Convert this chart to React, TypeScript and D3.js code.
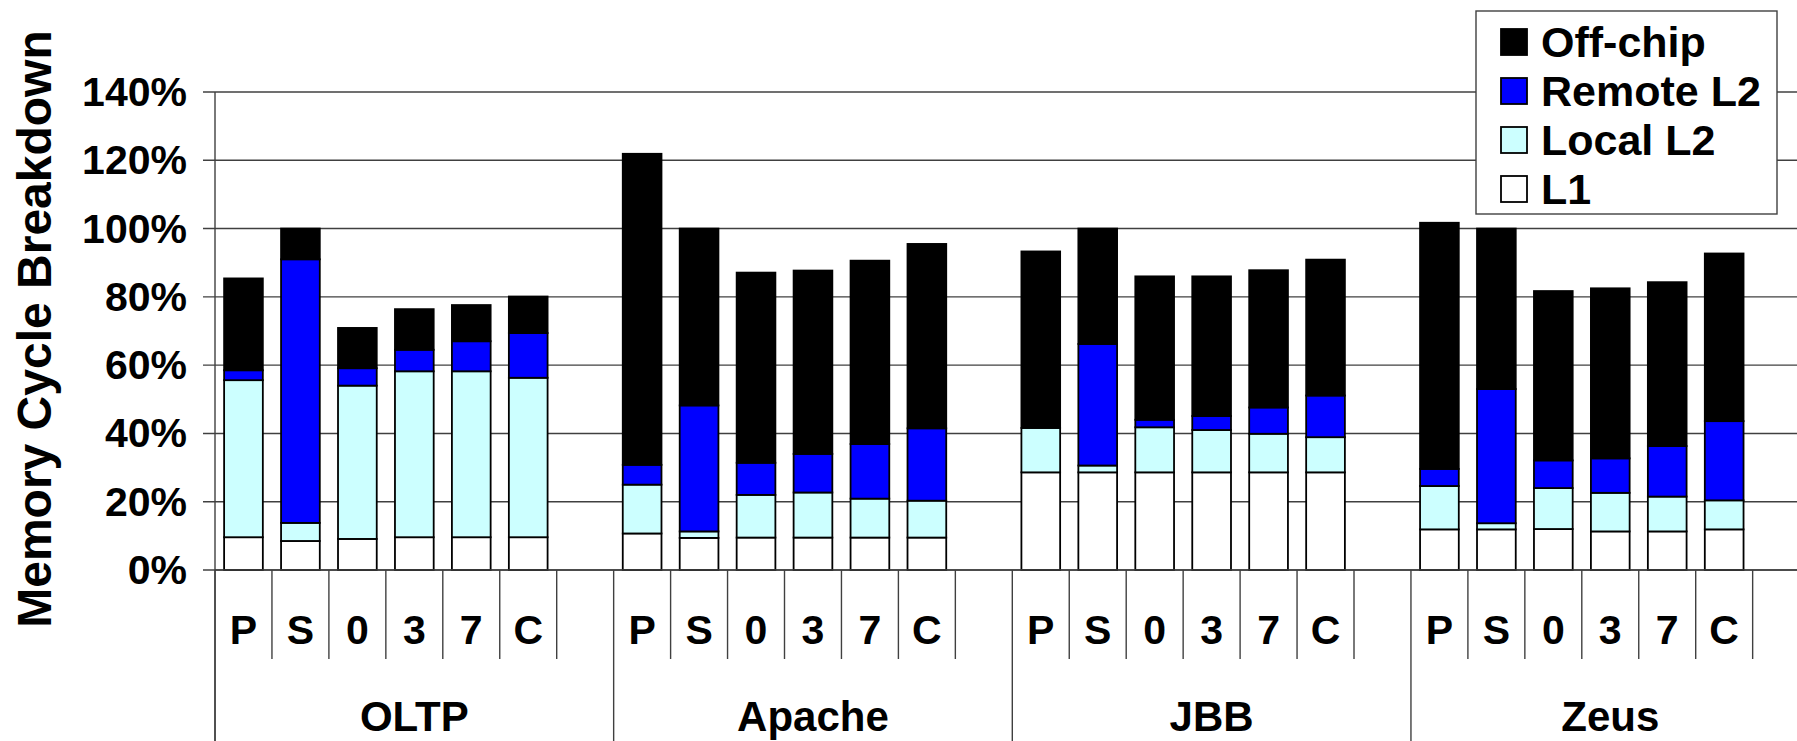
import React from "react";
import * as d3 from "d3";

const groups = ["OLTP", "Apache", "JBB", "Zeus"];
const configs = ["P", "S", "0", "3", "7", "C"];
const seriesNames = ["L1", "Local L2", "Remote L2", "Off-chip"];
const seriesColors = ["#FFFFFF", "#CCFFFF", "#0000FF", "#000000"];
const legendOrder = ["Off-chip", "Remote L2", "Local L2", "L1"];
const yTicks = [0, 20, 40, 60, 80, 100, 120, 140];

// segment values (%) per bar: [L1, Local L2, Remote L2, Off-chip]
const oltpValues = [
  [9.6, 46.0, 2.9, 26.9],
  [8.5, 5.3, 77.2, 9.0],
  [9.1, 44.9, 5.1, 11.8],
  [9.6, 48.6, 6.3, 11.9],
  [9.6, 48.6, 8.8, 10.6],
  [9.6, 46.7, 13.1, 10.7],
];
const apacheValues = [
  [10.7, 14.3, 5.8, 91.1],
  [9.4, 1.9, 36.9, 51.8],
  [9.5, 12.5, 9.4, 55.7],
  [9.5, 13.2, 11.3, 53.7],
  [9.5, 11.4, 16.0, 53.7],
  [9.5, 10.8, 21.2, 54.0],
];
const jbbValues = [
  [28.6, 13.0, 0.0, 51.7],
  [28.6, 2.0, 35.6, 33.8],
  [28.6, 13.2, 2.2, 42.0],
  [28.6, 12.4, 4.1, 40.9],
  [28.6, 11.3, 7.7, 40.2],
  [28.6, 10.3, 12.2, 39.8],
];
const zeusValues = [
  [11.9, 12.7, 5.0, 72.1],
  [11.9, 1.8, 39.3, 47.0],
  [12.0, 12.0, 8.1, 49.6],
  [11.3, 11.3, 10.1, 49.8],
  [11.3, 10.2, 14.8, 48.0],
  [11.9, 8.5, 23.2, 49.1],
];
const groupValues = [oltpValues, apacheValues, jbbValues, zeusValues];

const W = 1797;
const H = 741;
const FONT = "'Liberation Sans', Arial, sans-serif";

export default function App() {
  const plotLeft = 215;
  const slotW = 56.95;
  const slotsPerGroup = configs.length + 1;
  const slotKeys: string[] = [];
  groups.forEach((g) => {
    configs.forEach((c) => slotKeys.push(g + "|" + c));
    slotKeys.push(g + "|_");
  });
  const x = d3
    .scaleBand<string>()
    .domain(slotKeys)
    .range([plotLeft, plotLeft + slotKeys.length * slotW])
    .paddingInner(0.32)
    .paddingOuter(0.16);
  const y = d3.scaleLinear().domain([0, 140]).range([570, 92]);

  const bars: any[] = [];
  groups.forEach((g, gi) => {
    configs.forEach((c, ci) => {
      const vals = groupValues[gi][ci];
      let acc = 0;
      vals.forEach((v, si) => {
        const y0 = acc;
        acc += v;
        bars.push({ key: `${g}-${c}-${si}`, x: x(g + "|" + c)!, y0, y1: acc, si });
      });
    });
  });

  const baseY = y(0);
  const slotLines: number[] = [];
  const groupLines: number[] = [];
  for (let i = 0; i <= slotKeys.length; i++) {
    const xx = plotLeft + i * x.step();
    if (i % slotsPerGroup === 0) groupLines.push(xx);
    else slotLines.push(xx);
  }

  return (
    <svg
      width={W}
      height={H}
      style={{ position: "absolute", left: 0, top: 0, background: "#fff" }}
      fontFamily={FONT}
    >
      {/* gridlines */}
      {yTicks.map((t) => (
        <g key={t}>
          <line x1={plotLeft - 12} x2={W} y1={y(t)} y2={y(t)} stroke="#404040" strokeWidth={1.4} />
          <text
            x={187}
            y={y(t)}
            textAnchor="end"
            dominantBaseline="central"
            fontSize={41}
            fontWeight="bold"
          >
            {t}%
          </text>
        </g>
      ))}
      {/* y axis */}
      <line x1={plotLeft} x2={plotLeft} y1={y(140)} y2={H} stroke="#404040" strokeWidth={1.4} />
      {/* bars */}
      {bars.map((b) => (
        <rect
          key={b.key}
          x={b.x}
          width={x.bandwidth()}
          y={y(b.y1)}
          height={Math.max(0, y(b.y0) - y(b.y1))}
          fill={seriesColors[b.si]}
          stroke="#000"
          strokeWidth={1.8}
        />
      ))}
      {/* category axis */}
      <line x1={plotLeft} x2={W} y1={baseY} y2={baseY} stroke="#404040" strokeWidth={1.4} />
      {slotLines.map((xx, i) => (
        <line key={"s" + i} x1={xx} x2={xx} y1={baseY} y2={659} stroke="#404040" strokeWidth={1.4} />
      ))}
      {groupLines.map((xx, i) => (
        <line key={"g" + i} x1={xx} x2={xx} y1={baseY} y2={H} stroke="#404040" strokeWidth={1.4} />
      ))}
      {groups.map((g) =>
        configs.map((c) => (
          <text
            key={g + c}
            x={x(g + "|" + c)! + x.bandwidth() / 2}
            y={630}
            textAnchor="middle"
            dominantBaseline="central"
            fontSize={41}
            fontWeight="bold"
          >
            {c}
          </text>
        ))
      )}
      {groups.map((g, gi) => (
        <text
          key={g}
          x={plotLeft + (gi + 0.5) * slotsPerGroup * x.step()}
          y={716}
          textAnchor="middle"
          dominantBaseline="central"
          fontSize={42}
          fontWeight="bold"
        >
          {g}
        </text>
      ))}
      {/* y title */}
      <text
        transform={`translate(34,329) rotate(-90)`}
        textAnchor="middle"
        dominantBaseline="central"
        fontSize={48}
        fontWeight="bold"
      >
        Memory Cycle Breakdown
      </text>
      {/* legend */}
      <g>
        <rect x={1476} y={11} width={301} height={203} fill="#fff" stroke="#404040" strokeWidth={1.4} />
        {legendOrder.map((name, i) => {
          const si = seriesNames.indexOf(name);
          const cy = 42 + i * 49;
          return (
            <g key={name}>
              <rect x={1501} y={cy - 13} width={26} height={26} fill={seriesColors[si]} stroke="#000" strokeWidth={1.8} />
              <text x={1541} y={cy} dominantBaseline="central" fontSize={43} fontWeight="bold">
                {name}
              </text>
            </g>
          );
        })}
      </g>
    </svg>
  );
}
